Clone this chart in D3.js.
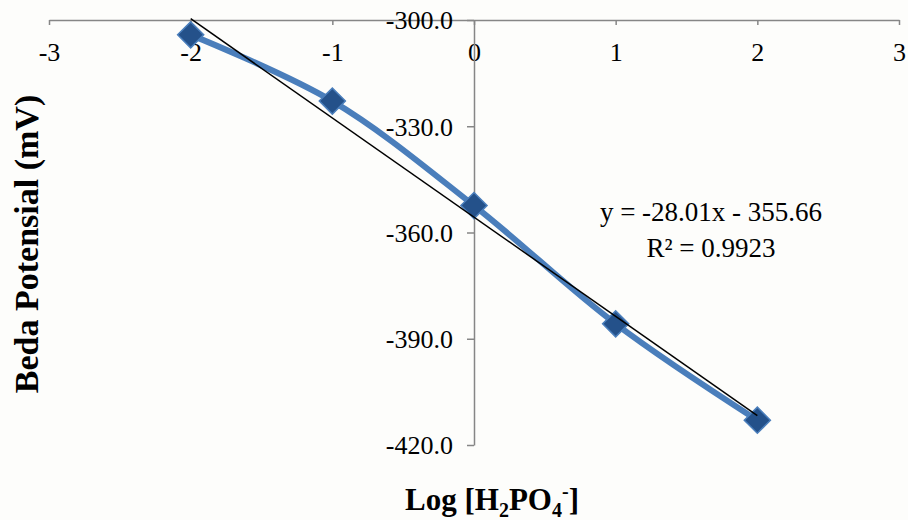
<!DOCTYPE html>
<html>
<head>
<meta charset="utf-8">
<script src="https://d3js.org/d3.v7.min.js"></script>
<style>
  body { margin: 0; background: #fdfdfb; }
  svg { display: block; }
  svg text { font-family: "Liberation Serif", "DejaVu Serif", serif; }
</style>
</head>
<body>
<div id="chart"></div>
<script>
// data
var logConc = [-2, -1, 0, 1, 2];
var potential = [-304.2, -322.9, -352.4, -385.8, -413.0];
var xTicks = [-3, -2, -1, 0, 1, 2, 3];
var yTicks = [-300, -330, -360, -390, -420];
var slope = -28.01, intercept = -355.66;
var eqLines = ["y = -28.01x - 355.66", "R² = 0.9923"];

var width = 908, height = 520;

var svg = d3.select("#chart")
  .append("svg")
    .attr("width", width)
    .attr("height", height);

var x = d3.scaleLinear()
  .domain([-3, 3])
  .range([49, 899]);

var y = d3.scaleLinear()
  .domain([-300, -420])
  .range([20, 445]);

var font = "Liberation Serif, DejaVu Serif, serif";
var axisColor = "#868686";

// X axis (sits on y = -300)
var xAxis = svg.append("g")
  .attr("transform", "translate(0," + y(-300) + ")")
  .call(d3.axisBottom(x).tickValues(xTicks).tickSize(5).tickSizeOuter(0));
xAxis.attr("font-family", null);
xAxis.select(".domain").attr("stroke", axisColor).attr("stroke-width", 1.5);
xAxis.selectAll(".tick line").attr("stroke", axisColor).attr("stroke-width", 1.5);
xAxis.selectAll(".tick text")
  .attr("y", 23)
  .attr("dy", "0.71em")
  .style("font-family", font)
  .style("font-size", "26px")
  .attr("fill", "#000")
  .text(function(d) { return d < 0 ? "-" + Math.abs(d) : d; });

// Y axis (crosses at x = 0)
var yAxis = svg.append("g")
  .attr("transform", "translate(" + x(0) + ",0)")
  .call(d3.axisLeft(y).tickValues(yTicks).tickSize(7).tickSizeOuter(0)
    .tickFormat(function(d) { return "-" + Math.abs(d).toFixed(1); }));
yAxis.attr("font-family", null);
yAxis.select(".domain").attr("stroke", axisColor).attr("stroke-width", 1.5);
yAxis.selectAll(".tick line").attr("stroke", axisColor).attr("stroke-width", 1.5);
yAxis.selectAll(".tick text")
  .attr("x", -21)
  .attr("dy", "0.34em")
  .style("font-family", font)
  .style("font-size", "26px")
  .attr("fill", "#000");

// smoothed data line
var pts = logConc.map(function(d, i) { return [d, potential[i]]; });
var line = d3.line()
  .x(function(d) { return x(d[0]); })
  .y(function(d) { return y(d[1]); })
  .curve(d3.curveCatmullRom.alpha(0.5));

svg.append("path")
  .datum(pts)
  .attr("d", line)
  .attr("fill", "none")
  .attr("stroke", "#4a7ebb")
  .attr("stroke-width", 6)
  .attr("stroke-linejoin", "round");

// markers
svg.selectAll("path.marker")
  .data(pts)
  .enter()
  .append("path")
    .attr("class", "marker")
    .attr("d", d3.symbol().type(d3.symbolSquare).size(340))
    .attr("transform", function(d) {
      return "translate(" + x(d[0]) + "," + y(d[1]) + ") rotate(45)";
    })
    .attr("fill", "#24518a")
    .attr("stroke", "#4a7ebb")
    .attr("stroke-width", 1.5);

// linear trendline
svg.append("line")
  .attr("x1", x(-2))
  .attr("y1", y(slope * -2 + intercept))
  .attr("x2", x(2))
  .attr("y2", y(slope * 2 + intercept))
  .attr("stroke", "#000")
  .attr("stroke-width", 1.5);

// equation label
svg.selectAll("text.eq")
  .data(eqLines)
  .enter()
  .append("text")
    .attr("class", "eq")
    .attr("x", 711)
    .attr("y", function(d, i) { return 221 + i * 36; })
    .attr("text-anchor", "middle")
    .style("font-size", "27px")
    .text(function(d) { return d; });

// axis titles
var xt = svg.append("text")
  .attr("x", 492)
  .attr("y", 510)
  .attr("text-anchor", "middle")
  .style("font-size", "31px")
  .style("font-weight", "bold");
xt.append("tspan").text("Log [H");
xt.append("tspan").style("font-size", "20px").attr("dy", 7).text("2");
xt.append("tspan").attr("dy", -7).text("PO");
xt.append("tspan").style("font-size", "20px").attr("dy", 7).text("4");
xt.append("tspan").style("font-size", "20px").attr("dy", -19).text("-");
xt.append("tspan").attr("dy", 12).text("]");

svg.append("text")
  .attr("transform", "translate(38,244) rotate(-90)")
  .attr("text-anchor", "middle")
  .style("font-size", "34px")
  .style("font-weight", "bold")
  .text("Beda Potensial (mV)");
</script>
</body>
</html>
